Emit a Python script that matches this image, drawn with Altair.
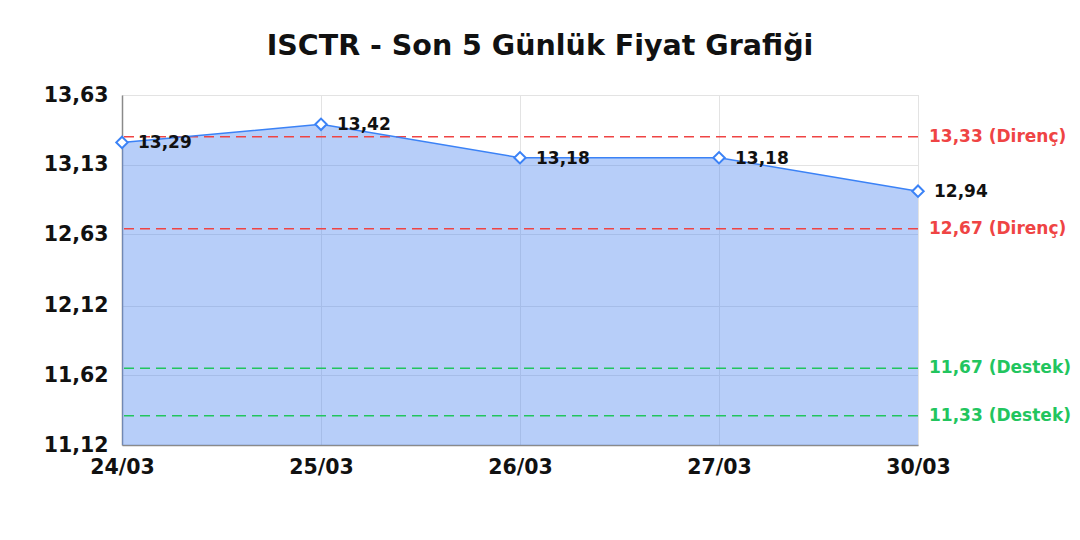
import altair as alt
import pandas as pd

dates = ["24/03", "25/03", "26/03", "27/03", "30/03"]
prices = [13.29, 13.42, 13.18, 13.18, 12.94]

level_values = [13.33, 12.67, 11.67, 11.33]
level_types = ["Direnç", "Direnç", "Destek", "Destek"]

y_ticks = [11.12, 11.62, 12.12, 12.63, 13.13, 13.63]
y_domain = [11.12, 13.63]

FONT = "DejaVu Sans"
W, H = 796, 350

df = pd.DataFrame({"date": dates, "price": prices})
lv = pd.DataFrame({"value": level_values, "kind": level_types})

x_enc = alt.X(
    "date:O",
    sort=dates,
    scale=alt.Scale(type="point", padding=0),
    axis=alt.Axis(
        title=None, labelAngle=0, ticks=False, labelPadding=12,
        labelFont=FONT, labelFontSize=20.5, labelFontWeight="bold", labelColor="#111",
        domainColor="#8a8a8a", domainWidth=1.5,
        grid=True, gridColor="#e3e3e3", gridWidth=1,
    ),
)
y_scale = alt.Scale(domain=y_domain, nice=False, zero=False)
y_enc = alt.Y(
    "price:Q",
    scale=y_scale,
    axis=alt.Axis(
        title=None, values=y_ticks, ticks=False, labelPadding=14,
        labelExpr="replace(format(datum.value, '.2f'), '.', ',')",
        labelFont=FONT, labelFontSize=20.5, labelFontWeight="bold", labelColor="#111",
        domainColor="#8a8a8a", domainWidth=1.5,
        grid=True, gridColor="#e3e3e3", gridWidth=1,
    ),
)

base = alt.Chart(df).encode(x=x_enc, y=y_enc)

area = base.mark_area(color="#4a84f0", opacity=0.4, clip=True)
line = base.mark_line(color="#3b82f6", strokeWidth=1.5)

color_scale = alt.Scale(domain=["Direnç", "Destek"], range=["#ef4444", "#22c55e"])

rules = alt.Chart(lv).mark_rule(strokeDash=[10, 6], strokeWidth=1.5).encode(
    y=alt.Y("value:Q", scale=y_scale),
    color=alt.Color("kind:N", scale=color_scale, legend=None),
)

level_labels = alt.Chart(lv).transform_calculate(
    label="replace(format(datum.value, '.2f'), '.', ',') + ' (' + datum.kind + ')'"
).mark_text(
    align="left", baseline="middle", dx=11, font=FONT, fontSize=17, fontWeight="bold"
).encode(
    x=alt.datum("30/03"),
    y=alt.Y("value:Q", scale=y_scale),
    text="label:N",
    color=alt.Color("kind:N", scale=color_scale, legend=None),
)

points = base.mark_point(
    shape="diamond", filled=True, fill="white", stroke="#3b82f6", strokeWidth=2, size=130, opacity=1
)

point_labels = base.transform_calculate(
    label="replace(format(datum.price, '.2f'), '.', ',')"
).mark_text(
    align="left", baseline="middle", dx=16, dy=1, font=FONT, fontSize=17, fontWeight="bold", color="#111"
).encode(text="label:N")

chart = alt.layer(area, rules, line, points, point_labels, level_labels).properties(
    width=W,
    height=H,
    title=alt.TitleParams(
        "ISCTR - Son 5 Günlük Fiyat Grafiği",
        font=FONT, fontSize=28.5, fontWeight="bold", color="#111", anchor="middle", dx=20, offset=25,
    ),
    autosize=alt.AutoSizeParams(type="none"),
    padding={"left": 114, "top": 87, "right": 154, "bottom": 87},
).configure_view(stroke=None).configure(background="white")

chart.save("out.html", embed_options={"renderer": "svg", "actions": False})
